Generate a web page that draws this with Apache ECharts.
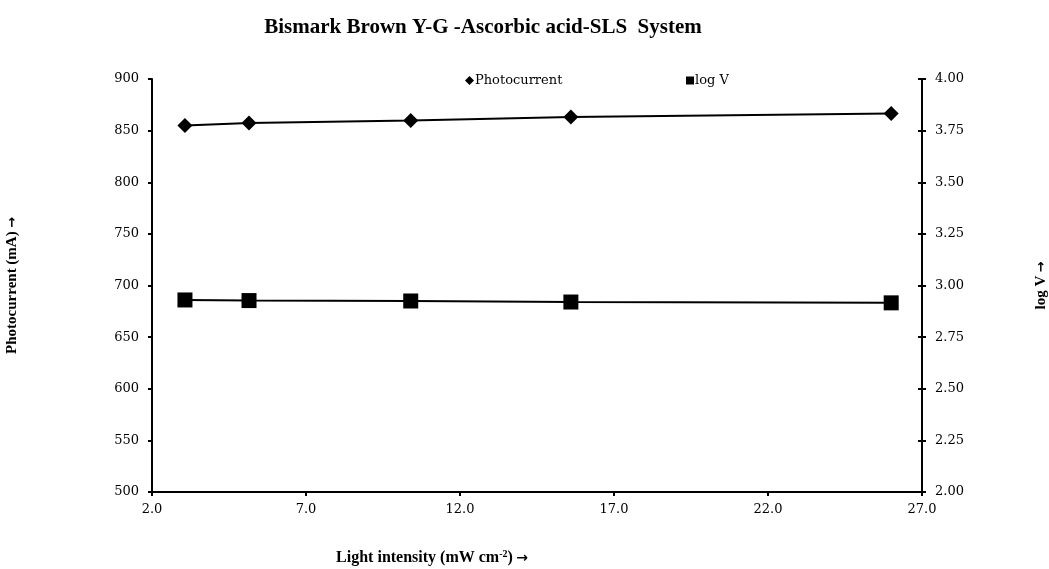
<!DOCTYPE html>
<html>
<head>
<meta charset="utf-8">
<script src="https://cdn.jsdelivr.net/npm/echarts@6/dist/echarts.min.js"></script>
<style>
  html, body { margin: 0; padding: 0; background: #fff; }
  #chart { width: 1049px; height: 569px; }
</style>
</head>
<body>
<div id="chart"></div>
<script>
// light intensity (mW cm-2)
const intensity = [3.07, 5.15, 10.4, 15.6, 26.0];
const photocurrent = [855, 857.5, 859.7, 863.3, 866.5];
const logV = [2.930, 2.927, 2.925, 2.920, 2.916];

const serif = "'DejaVu Serif', serif";
const titleFont = "'Liberation Serif', serif";
const arrowFont = "'DejaVu Sans', sans-serif";

const chart = echarts.init(document.getElementById("chart"));

const nameRich = {
  b: { fontFamily: titleFont, fontWeight: "bold", fontSize: 15, color: "#000" },
  a: { fontFamily: arrowFont, fontWeight: "bold", fontSize: 13, color: "#000" },
};

const option = {
  animation: false,
  title: {
    text: "Bismark Brown Y-G -Ascorbic acid-SLS  System",
    left: 478,
    textAlign: "center",
    top: 12,
    textStyle: { fontFamily: titleFont, fontWeight: "bold", fontSize: 21, color: "#000" },
  },
  legend: [
    {
      data: [{ name: "Photocurrent", icon: "diamond" }],
      left: 460,
      top: 69,
      itemWidth: 9,
      itemHeight: 9,
      textStyle: { fontFamily: serif, fontSize: 13, color: "#000", padding: [0, 0, 0, -4] },
    },
    {
      data: [{ name: "log V", icon: "rect" }],
      left: 681,
      top: 69,
      itemWidth: 8,
      itemHeight: 8,
      textStyle: { fontFamily: serif, fontSize: 13, color: "#000", padding: [0, 0, 0, -4] },
    },
  ],
  grid: { left: 152, right: 127, top: 79, bottom: 77, outerBoundsMode: "none" },
  xAxis: {
    type: "value",
    min: 2,
    max: 27,
    interval: 5,
    splitLine: { show: false },
    axisLine: { lineStyle: { color: "#000", width: 2 } },
    axisTick: { show: true, length: 4, lineStyle: { color: "#000", width: 2 } },
    axisLabel: {
      formatter: (v) => v.toFixed(1),
      fontFamily: serif,
      fontSize: 13,
      color: "#000",
      margin: 11,
    },
  },
  yAxis: [
    {
      type: "value",
      min: 500,
      max: 900,
      interval: 50,
      position: "left",
      splitLine: { show: false },
      axisLine: { show: true, lineStyle: { color: "#000", width: 2 } },
      axisTick: { show: true, length: 4, lineStyle: { color: "#000", width: 2 } },
      axisLabel: { fontFamily: serif, fontSize: 13, color: "#000", margin: 13 },
      name: "{b|Photocurrent (mA)} {a|→}",
      nameLocation: "middle",
      nameGap: 132,
      nameRotate: 90,
      nameTextStyle: { rich: nameRich },
    },
    {
      type: "value",
      min: 2,
      max: 4,
      interval: 0.25,
      position: "right",
      splitLine: { show: false },
      axisLine: { show: true, lineStyle: { color: "#000", width: 2 } },
      axisTick: { show: true, length: 4, lineStyle: { color: "#000", width: 2 } },
      axisLabel: {
        formatter: (v) => v.toFixed(2),
        fontFamily: serif,
        fontSize: 13,
        color: "#000",
        margin: 13,
      },
      name: "{b|log V} {a|→}",
      nameLocation: "middle",
      nameGap: 112,
      nameRotate: 90,
      nameTextStyle: { rich: nameRich },
    },
    {
      // inner half of the crossing ticks on the right axis
      type: "value",
      min: 2,
      max: 4,
      interval: 0.25,
      position: "right",
      splitLine: { show: false },
      axisLine: { show: false },
      axisTick: { show: true, inside: true, length: 4, lineStyle: { color: "#000", width: 2 } },
      axisLabel: { show: false },
    },
  ],
  graphic: [
    {
      type: "text",
      x: 432,
      y: 558,
      style: {
        text: "{b|Light intensity (mW cm}{s|-2}{b|)} {a|→}",
        align: "center",
        verticalAlign: "middle",
        rich: {
          b: { fontFamily: titleFont, fontWeight: "bold", fontSize: 16, fill: "#000" },
          a: { fontFamily: arrowFont, fontWeight: "bold", fontSize: 14, fill: "#000" },
          s: { fontFamily: titleFont, fontWeight: "bold", fontSize: 10, fill: "#000", verticalAlign: "top", padding: [0, 0, 7, 0] },
        },
      },
    },
  ],
  series: [
    {
      name: "Photocurrent",
      type: "line",
      yAxisIndex: 0,
      data: intensity.map((x, i) => [x, photocurrent[i]]),
      symbol: "diamond",
      symbolSize: 15,
      lineStyle: { color: "#000", width: 2 },
      itemStyle: { color: "#000" },
    },
    {
      name: "log V",
      type: "line",
      yAxisIndex: 1,
      data: intensity.map((x, i) => [x, logV[i]]),
      symbol: "rect",
      symbolSize: 15,
      lineStyle: { color: "#000", width: 2 },
      itemStyle: { color: "#000" },
    },
  ],
};

chart.setOption(option);
</script>
</body>
</html>
